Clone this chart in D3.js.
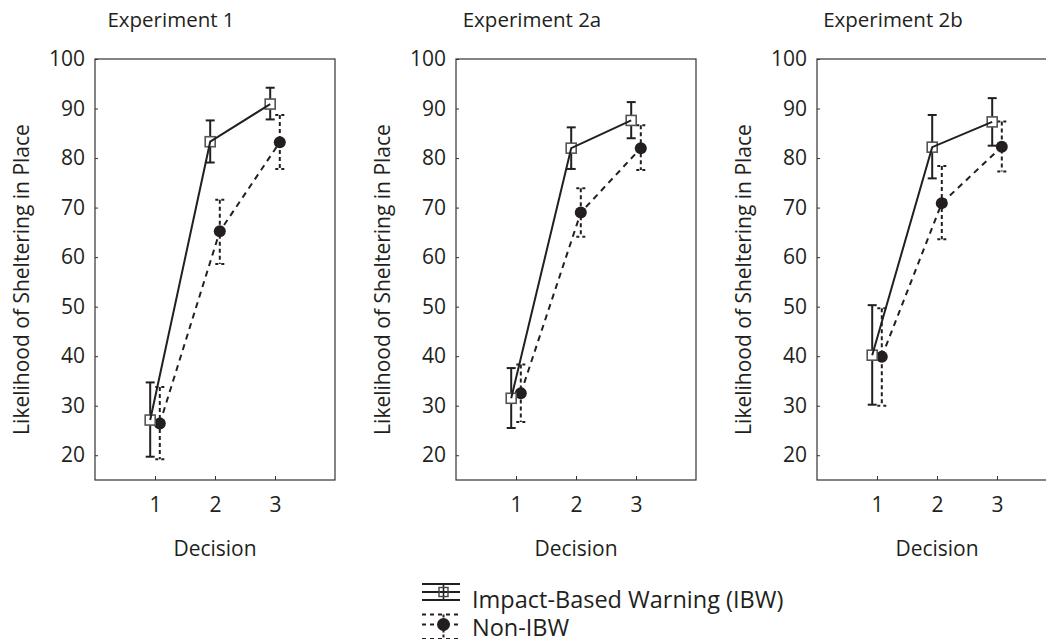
<!DOCTYPE html>
<html><head><meta charset="utf-8">
<script src="https://cdn.jsdelivr.net/npm/d3@7"></script>
<style>
body{margin:0;background:#fff}
svg{display:block}
text{font-family:"Open Sans",sans-serif;fill:#231f20}
</style>
</head><body><svg id="c" width="1046" height="639"></svg>
<script>
// ---- data ----
const panelTitles = ["Experiment 1", "Experiment 2a", "Experiment 2b"];
const decisions = [1, 2, 3];
const yTickValues = [20, 30, 40, 50, 60, 70, 80, 90, 100];
const seriesNames = ["Impact-Based Warning (IBW)", "Non-IBW"];

const ibwMean  = [[27.1, 83.3, 90.9], [31.5, 82.0, 87.6], [40.2, 82.2, 87.3]];
const ibwUpper = [[34.7, 87.6, 94.2], [37.6, 86.2, 91.3], [50.3, 88.7, 92.1]];
const ibwLower = [[19.7, 79.1, 87.8], [25.5, 77.8, 84.0], [30.2, 75.9, 82.5]];

const nonMean  = [[26.4, 65.2, 83.2], [32.5, 69.0, 82.0], [39.9, 70.9, 82.3]];
const nonUpper = [[33.8, 71.6, 88.7], [38.3, 73.9, 86.6], [49.7, 78.4, 87.4]];
const nonLower = [[19.2, 58.6, 77.8], [26.7, 64.1, 77.6], [30.0, 63.6, 77.3]];

// ---- layout ----
const svg = d3.select("#c");
const ink = "#231f20";
const FS = 21;
const panelLeft = [95, 456, 817];
const plotW = 240, plotTop = 59, plotBottom = 480;
const dx = 0.08;
const capW = 4.5;

const y = d3.scaleLinear().domain([15, 100]).range([plotBottom, plotTop]);

panelTitles.forEach((title, p) => {
  const x0 = panelLeft[p];
  const x = d3.scaleLinear().domain([0, 4]).range([x0, x0 + plotW]);
  const g = svg.append("g");

  // frame
  g.append("rect").attr("x", x0).attr("y", plotTop)
    .attr("width", plotW).attr("height", plotBottom - plotTop)
    .attr("fill", "none").attr("stroke", "#333").attr("stroke-width", 1.2);

  // y axis
  const ya = g.append("g").attr("transform", `translate(${x0},0)`)
    .call(d3.axisLeft(y).tickValues(yTickValues).tickSize(-3).tickPadding(10));
  ya.select(".domain").remove();
  ya.attr("font-size", FS).attr("font-family", '"Open Sans",sans-serif');
  ya.selectAll("line").attr("stroke", "#333");
  ya.selectAll("text").attr("fill", ink);

  // x axis
  const xa = g.append("g").attr("transform", `translate(0,${plotBottom})`)
    .call(d3.axisBottom(x).tickValues(decisions).tickFormat(d3.format("d")).tickSize(-4).tickPadding(17));
  xa.select(".domain").remove();
  xa.attr("font-size", FS).attr("font-family", '"Open Sans",sans-serif');
  xa.selectAll("line").attr("stroke", "#333");
  xa.selectAll("text").attr("fill", ink);

  // titles / labels
  g.append("text").attr("x", x0 + 76).attr("y", 27).attr("text-anchor", "middle")
    .attr("font-size", 20.5).text(title);
  g.append("text").attr("transform", `translate(${x0 - 66},${(plotTop + plotBottom) / 2 + 10}) rotate(-90)`)
    .attr("text-anchor", "middle").attr("font-size", FS).text("Likelihood of Sheltering in Place");
  g.append("text").attr("x", x0 + plotW / 2).attr("y", 556).attr("text-anchor", "middle")
    .attr("font-size", FS).text("Decision");

  const ibw = decisions.map((d, i) => ({d, m: ibwMean[p][i], hi: ibwUpper[p][i], lo: ibwLower[p][i]}));
  const non = decisions.map((d, i) => ({d, m: nonMean[p][i], hi: nonUpper[p][i], lo: nonLower[p][i]}));

  // non-IBW error bars (dashed)
  non.forEach(o => {
    const cx = x(o.d + dx);
    g.append("line").attr("x1", cx).attr("x2", cx).attr("y1", y(o.hi)).attr("y2", y(o.lo))
      .attr("stroke", ink).attr("stroke-width", 2).attr("stroke-dasharray", "4,3");
    [o.hi, o.lo].forEach(v => g.append("line").attr("x1", cx - capW).attr("x2", cx + capW)
      .attr("y1", y(v)).attr("y2", y(v)).attr("stroke", ink).attr("stroke-width", 2)
      .attr("stroke-dasharray", "3,3"));
  });
  // IBW error bars (solid)
  ibw.forEach(o => {
    const cx = x(o.d - dx);
    g.append("line").attr("x1", cx).attr("x2", cx).attr("y1", y(o.hi)).attr("y2", y(o.lo))
      .attr("stroke", ink).attr("stroke-width", 2);
    [o.hi, o.lo].forEach(v => g.append("line").attr("x1", cx - capW).attr("x2", cx + capW)
      .attr("y1", y(v)).attr("y2", y(v)).attr("stroke", ink).attr("stroke-width", 2));
  });

  // non-IBW line
  g.append("path").datum(non)
    .attr("d", d3.line().x(o => x(o.d + dx)).y(o => y(o.m)))
    .attr("fill", "none").attr("stroke", ink).attr("stroke-width", 2).attr("stroke-dasharray", "6,5");
  g.selectAll(".dot").data(non).enter().append("circle")
    .attr("cx", o => x(o.d + dx)).attr("cy", o => y(o.m)).attr("r", 6).attr("fill", ink);

  // IBW markers then line
  g.selectAll(".sq").data(ibw).enter().append("rect")
    .attr("x", o => x(o.d - dx) - 5).attr("y", o => y(o.m) - 5)
    .attr("width", 10).attr("height", 10).attr("fill", "#fff").attr("stroke", "#555").attr("stroke-width", 1.6);
  g.append("path").datum(ibw)
    .attr("d", d3.line().x(o => x(o.d - dx)).y(o => y(o.m)))
    .attr("fill", "none").attr("stroke", ink).attr("stroke-width", 2);
});

// ---- legend ----
const LFS = 23.5;
const lg = svg.append("g");
const lx0 = 422, lx1 = 460, lxc = 443.5;
// IBW symbol
[584, 592, 600].forEach(yy => lg.append("line").attr("x1", lx0).attr("x2", lx1)
  .attr("y1", yy).attr("y2", yy).attr("stroke", ink).attr("stroke-width", 2));
lg.append("line").attr("x1", lxc).attr("x2", lxc).attr("y1", 584).attr("y2", 600)
  .attr("stroke", ink).attr("stroke-width", 1.6);
lg.append("rect").attr("x", lxc - 4.5).attr("y", 587.5).attr("width", 9).attr("height", 9)
  .attr("fill", "none").attr("stroke", "#444").attr("stroke-width", 1.4);
lg.append("text").attr("x", 472).attr("y", 608).attr("font-size", LFS).text(seriesNames[0]);
// Non-IBW symbol
[614.5, 624.5, 639].forEach(yy => lg.append("line").attr("x1", lx0).attr("x2", lx1)
  .attr("y1", yy).attr("y2", yy).attr("stroke", ink).attr("stroke-width", 2).attr("stroke-dasharray", "4,4"));
lg.append("line").attr("x1", lxc).attr("x2", lxc).attr("y1", 614.5).attr("y2", 639)
  .attr("stroke", ink).attr("stroke-width", 2).attr("stroke-dasharray", "3,2");
lg.append("circle").attr("cx", lxc).attr("cy", 624.5).attr("r", 6.5).attr("fill", ink);
lg.append("text").attr("x", 472).attr("y", 636).attr("font-size", LFS).text(seriesNames[1]);
</script>
</body></html>
